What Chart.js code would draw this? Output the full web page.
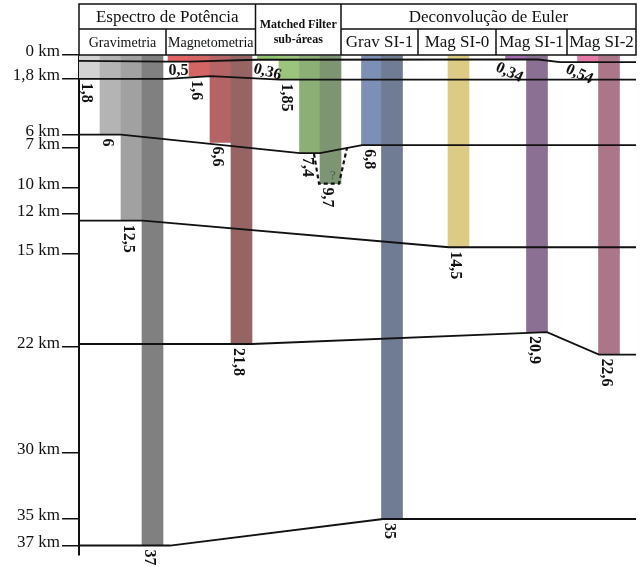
<!DOCTYPE html>
<html>
<head>
<meta charset="utf-8">
<script src="https://cdn.jsdelivr.net/npm/chart.js@4/dist/chart.umd.min.js"></script>
<style>
html, body { margin: 0; padding: 0; background: #fff; }
#wrap { width: 640px; height: 567px; }
</style>
</head>
<body>
<div id="wrap"><canvas id="perfil"></canvas></div>
<script>
//<------------- depth ticks on the left axis (km) ------------->
const depthTicks = [0, 1.8, 6, 7, 10, 12, 15, 22, 30, 35, 37];

//<------------- header text ------------->
const groupNames = ['Espectro de Potência', ['Matched Filter', 'sub-áreas'], 'Deconvolução de Euler'];
const methodNames = ['Gravimetria', 'Magnetometria', 'Grav SI-1', 'Mag SI-0', 'Mag SI-1', 'Mag SI-2'];

//<------------- estimated depths (km), one per bar ------------->
const gravEP = [1.8, 6, 12.5, 37];
const magEP = [0.5, 1.6, 6.6, 21.8];
const matched = [0.36, 1.85, 7.4, 9.7];
const gravSI1 = [6.8, 35];
const magSI0 = [14.5];
const magSI1 = [0.34, 20.9];
const magSI2 = [0.54, 22.6];

//<------------- interfaces joining the estimates (km) ------------->
const iface1 = [0.45, 0.5, 0.5, 0.36, 0.34, 0.34, 0.54, 0.54];
const iface2 = [1.8, 1.8, 1.6, 1.85, 1.85];
const iface3 = [6, 6, 7.4, 7.4, 6.8, 6.8];
const iface4 = [12.5, 12.5, 14.5, 14.5];
const iface5 = [21.8, 21.8, 20.9, 22.6, 22.6];
const iface6 = [37, 37, 35, 35];
const uncertain = [7.45, 9.7, 9.7, 7.0];

//<------------- layout: positions along the profile (0..557) ------------->
const headerCuts = [0, 87, 176.5, 262, 339, 417, 488, 557];
const gravEPPos = [10.5, 31.5, 52.5, 73.5];
const magEPPos = [99.5, 120.5, 141.5, 162.5];
const matchedPos = [189, 210.5, 231, 251.5];
const gravSI1Pos = [293, 313];
const magSI0Pos = [379.5];
const magSI1Pos = [437, 458];
const magSI2Pos = [509, 530];
const iface1Pos = [0, 88, 110, 177, 426, 459, 481, 557];
const iface2Pos = [0, 88, 132, 201, 557];
const iface3Pos = [0, 42, 221, 241, 283, 557];
const iface4Pos = [0, 64, 370, 557];
const iface5Pos = [0, 173, 468, 520, 557];
const iface6Pos = [0, 91, 304, 557];
const uncertainPos = [235, 240, 260, 268];

//<------------- colours ------------->
const gravEPColors = ['#d3d3d3', '#b4b4b4', '#a1a1a1', '#808080'];
const magEPColors = ['#e06262', '#d46565', '#b46464', '#976464'];
const matchedColors = ['#8fc46c', '#9bc47c', '#8caf76', '#7d9572'];
const gravSI1Colors = ['#7b90b4', '#6f7c93'];
const magSI0Colors = ['#dccb84'];
const magSI1Colors = ['#a46eb4', '#8c7093'];
const magSI2Colors = ['#e67aa9', '#ac7689'];

// shallow strips get a small label instead of the vertical one: [angle, dx, dy]
const tiltMag = [[0, -10, 1.5]];
const tiltMatched = [[15, -12, 1]];
const tiltSI1 = [[25, -16, 0]];
const tiltSI2 = [[25, -18, -1]];

Chart.defaults.font.family = "'Liberation Serif', 'Times New Roman', serif";
Chart.defaults.color = '#111';

const bars = [];
function addGroup(depths, pos, colors, tilts) {
  depths.forEach(function (d, i) {
    bars.push({ d: d, x: pos[i], c: colors[i], tilt: tilts && tilts[i] ? tilts[i] : null });
  });
}
addGroup(gravEP, gravEPPos, gravEPColors);
addGroup(magEP, magEPPos, magEPColors, tiltMag);
addGroup(matched, matchedPos, matchedColors, tiltMatched);
addGroup(gravSI1, gravSI1Pos, gravSI1Colors);
addGroup(magSI0, magSI0Pos, magSI0Colors);
addGroup(magSI1, magSI1Pos, magSI1Colors, tiltSI1);
addGroup(magSI2, magSI2Pos, magSI2Colors, tiltSI2);

function fmt(v) { return String(v).replace('.', ','); }

function lineSet(depths, pos, dashed) {
  return {
    type: 'line',
    data: depths.map(function (d, i) { return { x: pos[i], y: d }; }),
    borderColor: '#111',
    borderWidth: dashed ? 2.2 : 1.8,
    borderDash: dashed ? [4, 3] : [],
    pointRadius: 0,
    fill: false,
    tension: 0,
    order: 1
  };
}

//<------------- header table above the plot ------------->
const headerPlugin = {
  id: 'header',
  afterDraw: function (chart) {
    const ctx = chart.ctx;
    const xs = chart.scales.x;
    const area = chart.chartArea;
    const top = area.top - 51, mid = area.top - 26, bot = area.top;
    const X = function (u) { return xs.getPixelForValue(u); };
    ctx.save();
    ctx.strokeStyle = '#111';
    ctx.lineWidth = 1.5;
    ctx.strokeRect(X(0), top, X(557) - X(0), bot - top);
    ctx.beginPath();
    ctx.moveTo(X(0), mid); ctx.lineTo(X(176.5), mid);
    ctx.moveTo(X(262), mid); ctx.lineTo(X(557), mid);
    [176.5, 262].forEach(function (u) { ctx.moveTo(X(u), top); ctx.lineTo(X(u), bot); });
    [87, 339, 417, 488].forEach(function (u) { ctx.moveTo(X(u), mid); ctx.lineTo(X(u), bot); });
    ctx.stroke();

    ctx.fillStyle = '#111';
    ctx.textAlign = 'center';
    ctx.textBaseline = 'middle';
    const c = function (a, b) { return (X(headerCuts[a]) + X(headerCuts[b])) / 2; };
    ctx.font = "17px 'Liberation Serif'";
    ctx.fillText(groupNames[0], c(0, 2), (top + mid) / 2 + 1);
    ctx.fillText(groupNames[2], c(3, 7), (top + mid) / 2 + 1);
    ctx.font = "bold 12px 'Liberation Serif'";
    ctx.fillText(groupNames[1][0], c(2, 3), top + 21);
    ctx.fillText(groupNames[1][1], c(2, 3), top + 36);
    ctx.font = "14px 'Liberation Serif'";
    ctx.fillText(methodNames[0], c(0, 1), (mid + bot) / 2 + 1);
    ctx.fillText(methodNames[1], c(1, 2), (mid + bot) / 2 + 1);
    ctx.font = "17px 'Liberation Serif'";
    for (let i = 2; i < 6; i++) {
      ctx.fillText(methodNames[i], c(i + 1, i + 2), (mid + bot) / 2 + 1);
    }
    ctx.restore();
  }
};

//<------------- depth labels under each bar ------------->
const labelPlugin = {
  id: 'depthLabels',
  afterDatasetsDraw: function (chart) {
    const ctx = chart.ctx;
    const xs = chart.scales.x, ys = chart.scales.y;
    ctx.save();
    ctx.fillStyle = '#111';
    ctx.font = "bold 16px 'Liberation Serif'";
    bars.forEach(function (b) {
      const x = xs.getPixelForValue(b.x);
      const y = ys.getPixelForValue(b.d);
      ctx.save();
      if (b.tilt) {
        ctx.translate(x + b.tilt[1], y + b.tilt[2]);
        ctx.rotate(b.tilt[0] * Math.PI / 180);
        ctx.textAlign = 'left';
        ctx.textBaseline = 'top';
      } else {
        ctx.translate(x - 3, y + 4);
        ctx.rotate(Math.PI / 2);
        ctx.textAlign = 'left';
        ctx.textBaseline = 'middle';
      }
      ctx.fillText(fmt(b.d), 0, 0);
      ctx.restore();
    });
    // question mark inside the uncertain matched-filter body
    ctx.fillStyle = '#555';
    ctx.font = "13px 'Liberation Serif'";
    ctx.textAlign = 'center';
    ctx.textBaseline = 'middle';
    ctx.fillText('?', xs.getPixelForValue(254), ys.getPixelForValue(9.1));
    ctx.restore();
  }
};

new Chart(document.getElementById('perfil'), {
  type: 'bar',
  data: {
    datasets: [
      {
        data: bars.map(function (b) { return { x: b.x, y: [0, b.d] }; }),
        backgroundColor: bars.map(function (b) { return b.c; }),
        barThickness: 21,
        grouped: false,
        borderWidth: 0,
        order: 2
      },
      lineSet(iface1, iface1Pos),
      lineSet(iface2, iface2Pos),
      lineSet(iface3, iface3Pos),
      lineSet(iface4, iface4Pos),
      lineSet(iface5, iface5Pos),
      lineSet(iface6, iface6Pos),
      lineSet(uncertain, uncertainPos, true)
    ]
  },
  options: {
    responsive: true,
    maintainAspectRatio: false,
    animation: false,
    layout: { padding: { top: 55, right: 4, bottom: 12, left: 0 } },
    plugins: { legend: { display: false }, tooltip: { enabled: false } },
    scales: {
      x: {
        type: 'linear',
        min: 0,
        max: 557,
        offset: false,
        display: false
      },
      y: {
        reverse: true,
        min: 0,
        max: 37.7,
        afterBuildTicks: function (s) { s.ticks = depthTicks.map(function (v) { return { value: v }; }); },
        afterFit: function (s) { s.width = 79; },
        grid: { drawOnChartArea: false, drawTicks: true, tickLength: 17, color: '#111', lineWidth: 1.5 },
        border: { display: true, color: '#111', width: 2 },
        ticks: {
          padding: 2,
          labelOffset: -3,
          color: '#111',
          font: { size: 17 },
          callback: function (v) { return fmt(v) + ' km'; }
        }
      }
    }
  },
  plugins: [headerPlugin, labelPlugin]
});
</script>
</body>
</html>
